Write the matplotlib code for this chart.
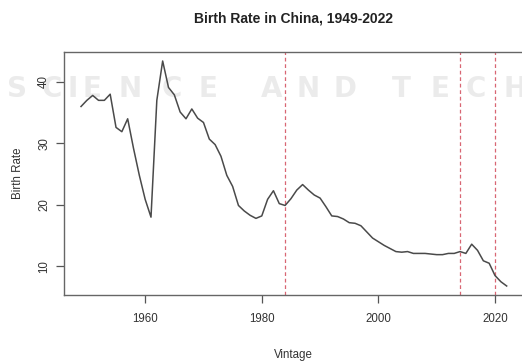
import numpy as np
import matplotlib
matplotlib.use('Agg')
import matplotlib.pyplot as plt

plt.rcParams['font.family'] = ['Liberation Sans', 'DejaVu Sans']

years = np.arange(1949, 2023)
birth_rate = [
    36.0, 37.0, 37.8, 37.0, 37.0, 38.0, 32.6, 31.9, 34.0, 29.2,   # 1949-1958
    24.8, 20.9, 18.0, 37.0, 43.4, 39.1, 37.9, 35.1, 34.0, 35.6,   # 1959-1968
    34.1, 33.4, 30.7, 29.8, 27.9, 24.8, 23.0, 19.9, 19.0, 18.3,   # 1969-1978
    17.8, 18.2, 20.9, 22.3, 20.2, 19.9, 21.0, 22.4, 23.3, 22.4,   # 1979-1988
    21.6, 21.1, 19.7, 18.2, 18.1, 17.7, 17.1, 17.0, 16.6, 15.6,   # 1989-1998
    14.6, 14.0, 13.4, 12.9, 12.4, 12.3, 12.4, 12.1, 12.1, 12.1,   # 1999-2008
    12.0, 11.9, 11.9, 12.1, 12.1, 12.4, 12.1, 13.6, 12.6, 10.9,   # 2009-2018
    10.5, 8.5, 7.5, 6.8,                                          # 2019-2022
]
policy_years = [1984, 2014, 2020]
x_ticks = [1960, 1980, 2000, 2020]
y_ticks = [10, 20, 30, 40]

# watermark letters and their centre positions (pixels from left)
wm_letters = list('SCIENCEANDTECH')
wm_centres = [17, 52, 73, 92, 130, 172, 208, 272, 308, 345, 401, 440, 476, 515]

fig = plt.figure(figsize=(5.22, 3.61), dpi=100)
W, H = 522, 361

# faint publisher watermark behind the plot, spread out like the wide original font
for ch, cx in zip(wm_letters, wm_centres):
    fig.text(cx / W, 1 - 97 / H, ch, color='#ebebeb', fontsize=20,
             fontweight='bold', family='DejaVu Sans', ha='center',
             va='baseline', zorder=-1)

ax = fig.add_axes([64 / W, 1 - 295 / H, (523.7 - 64) / W, (295 - 52) / H])
ax.patch.set_alpha(0)

ax.plot(years, birth_rate, color='#4a4a4a', lw=1.1, zorder=3)
for yr in policy_years:
    ax.axvline(yr, color='#cc3344', lw=0.9, ls=(0, (3, 2.2)), alpha=0.75, zorder=2)

# R style 4% axis padding
xr = years[-1] - years[0]
ax.set_xlim(years[0] - 0.04 * xr, years[-1] + 0.04 * xr)
yr_ = max(birth_rate) - min(birth_rate)
ax.set_ylim(min(birth_rate) - 0.04 * yr_, max(birth_rate) + 0.04 * yr_)

ax.set_xticks(x_ticks)
ax.set_yticks(y_ticks)
ax.set_yticklabels([str(v) for v in y_ticks], rotation=90, va='center')
ax.tick_params(direction='out', length=6, width=0.9, color='#555555',
               labelsize=8.3, labelcolor='#333333')
ax.tick_params(axis='x', pad=7)
ax.tick_params(axis='y', pad=4)

for s in ax.spines.values():
    s.set_color('#666666')
    s.set_linewidth(1.0)

ax.set_title('Birth Rate in China, 1949-2022', fontsize=10, fontweight='bold',
             color='#222222', pad=21)
ax.set_xlabel('Vintage', fontsize=8.3, color='#333333', labelpad=17)
ax.set_ylabel('Birth Rate', fontsize=8.3, color='#333333', labelpad=10)

fig.savefig('out.png', dpi=100)
